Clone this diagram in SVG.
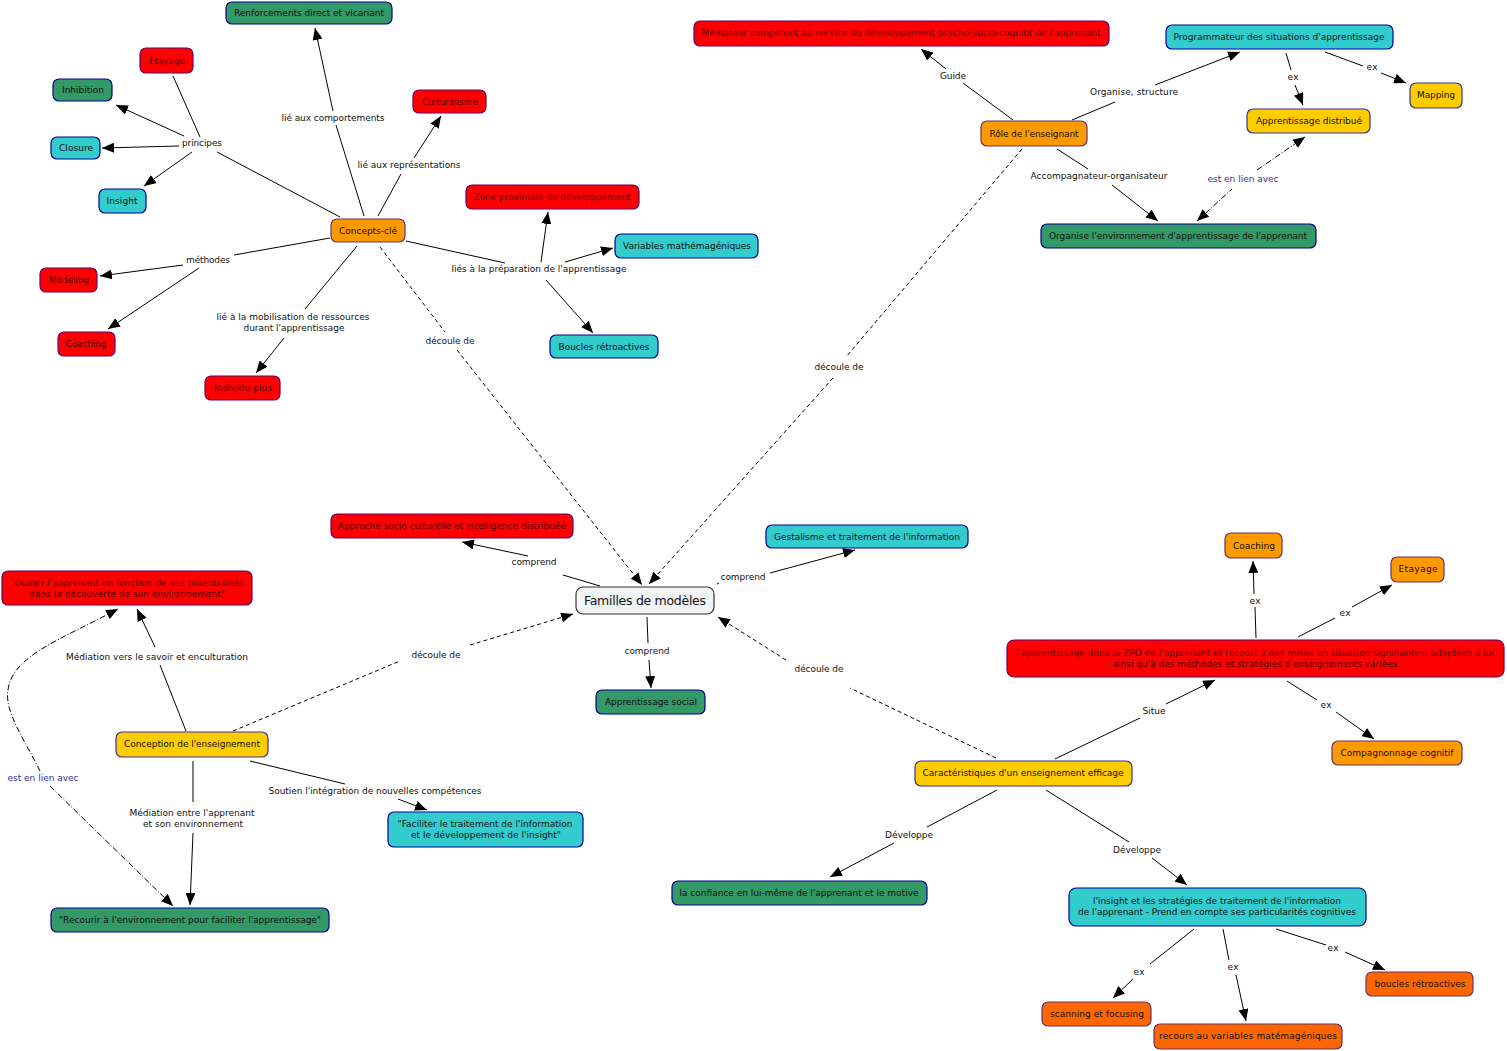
<svg xmlns="http://www.w3.org/2000/svg" width="1507" height="1051" viewBox="0 0 1507 1051">
<style>
.n{stroke-width:1.2}
.red{fill:#FF0000;stroke:#660066}
.green{fill:#339966;stroke:#000099}
.cyan{fill:#33CCCC;stroke:#000099}
.orange{fill:#FF9900;stroke:#663366}
.yellow{fill:#FFCC00;stroke:#333399}
.dorange{fill:#FF6600;stroke:#663366}
.ctr{fill:#F0F4F7;stroke:#333333}
text{font-family:"DejaVu Sans",Verdana,"Liberation Sans",sans-serif;font-size:9px;text-anchor:middle;fill:#111}
.tr{fill:#550000}
.tb{fill:#333399}
.big{font-size:12.5px}
.c{stroke:#000;stroke-width:1;fill:none}
.d{stroke-dasharray:4,3}
.dd{stroke-dasharray:6,2,1,2}
</style>
<defs>
<marker id="a" viewBox="0 0 12 10" refX="12" refY="5" markerWidth="12" markerHeight="10" markerUnits="userSpaceOnUse" orient="auto-start-reverse"><path d="M0,0L12,5L0,10z" fill="#000"/></marker>
</defs>
<rect width="1507" height="1051" fill="#fff"/>
<g id="connectors">
<path class="c" d="M340,217L217,152"/>
<path class="c" d="M173,76L200,137"/>
<path class="c" d="M184,136L116,105" marker-end="url(#a)"/>
<path class="c" d="M179,146L102,148" marker-end="url(#a)"/>
<path class="c" d="M192,152L144,186" marker-end="url(#a)"/>
<path class="c" d="M364,216L336,125"/>
<path class="c" d="M333,111L315,28" marker-end="url(#a)"/>
<path class="c" d="M378,216L401,174"/>
<path class="c" d="M414,158L441,116" marker-end="url(#a)"/>
<path class="c" d="M330,238L234,255"/>
<path class="c" d="M183,265L100,276" marker-end="url(#a)"/>
<path class="c" d="M199,268L108,329" marker-end="url(#a)"/>
<path class="c" d="M357,246L305,309"/>
<path class="c" d="M284,338L256,373" marker-end="url(#a)"/>
<path class="c" d="M406,241L505,263"/>
<path class="c" d="M541,262L548,212" marker-end="url(#a)"/>
<path class="c" d="M565,262L613,248" marker-end="url(#a)"/>
<path class="c" d="M546,280L593,333" marker-end="url(#a)"/>
<path class="c d" d="M380,247L445,332"/>
<path class="c d" d="M457,350L642,585" marker-end="url(#a)"/>
<path class="c" d="M1013,120L963,83"/>
<path class="c" d="M946,69L921,49" marker-end="url(#a)"/>
<path class="c" d="M1072,120L1115,102"/>
<path class="c" d="M1155,85L1240,52" marker-end="url(#a)"/>
<path class="c" d="M1057,149L1088,169"/>
<path class="c" d="M1112,185L1158,221" marker-end="url(#a)"/>
<path class="c d" d="M1022,149L846,357"/>
<path class="c d" d="M833,378L649,584" marker-end="url(#a)"/>
<path class="c" d="M1286,53L1291,70"/>
<path class="c" d="M1295,85L1303,105" marker-end="url(#a)"/>
<path class="c" d="M1325,52L1363,66"/>
<path class="c" d="M1381,73L1406,83" marker-end="url(#a)"/>
<path class="c dd" d="M1197,221L1232,189" marker-start="url(#a)"/>
<path class="c dd" d="M1257,170L1305,137" marker-end="url(#a)"/>
<path class="c" d="M600,586L563,575"/>
<path class="c" d="M528,556L462,542" marker-end="url(#a)"/>
<path class="c" d="M717,584L719,583"/>
<path class="c" d="M770,573L855,550" marker-end="url(#a)"/>
<path class="c" d="M647,617L648,643"/>
<path class="c" d="M649,660L651,688" marker-end="url(#a)"/>
<path class="c d" d="M233,731L400,661"/>
<path class="c d" d="M470,645L573,614" marker-end="url(#a)"/>
<path class="c d" d="M996,758L850,688"/>
<path class="c d" d="M786,660L718,617" marker-end="url(#a)"/>
<path class="c" d="M186,731L160,665"/>
<path class="c" d="M155,647L137,609" marker-end="url(#a)"/>
<path class="c dd" d="M40,771C26,742 4,712 8,690C12,656 60,640 118,609" marker-end="url(#a)"/>
<path class="c dd" d="M50,786L173,906" marker-end="url(#a)"/>
<path class="c" d="M193,761L193,802"/>
<path class="c" d="M193,833L190,905" marker-end="url(#a)"/>
<path class="c" d="M250,761L345,784"/>
<path class="c" d="M398,799L427,810" marker-end="url(#a)"/>
<path class="c" d="M1055,759L1140,718"/>
<path class="c" d="M1166,704L1215,680" marker-end="url(#a)"/>
<path class="c" d="M1256,638L1255,607"/>
<path class="c" d="M1254,594L1253,561" marker-end="url(#a)"/>
<path class="c" d="M1298,637L1335,618"/>
<path class="c" d="M1352,607L1392,585" marker-end="url(#a)"/>
<path class="c" d="M1287,681L1317,700"/>
<path class="c" d="M1336,712L1374,739" marker-end="url(#a)"/>
<path class="c" d="M997,790L927,827"/>
<path class="c" d="M894,843L830,877" marker-end="url(#a)"/>
<path class="c" d="M1046,790L1129,842"/>
<path class="c" d="M1152,858L1187,885" marker-end="url(#a)"/>
<path class="c" d="M1194,929L1150,964"/>
<path class="c" d="M1133,979L1113,998" marker-end="url(#a)"/>
<path class="c" d="M1223,929L1229,960"/>
<path class="c" d="M1236,975L1246,1021" marker-end="url(#a)"/>
<path class="c" d="M1276,929L1326,945"/>
<path class="c" d="M1345,952L1385,970" marker-end="url(#a)"/>
</g>
<g id="labels">
<text x="202" y="146" textLength="40">principes</text>
<text x="333" y="121" textLength="103">lié aux comportements</text>
<text x="409" y="168" textLength="103">lié aux représentations</text>
<text x="208" y="263" textLength="44">méthodes</text>
<text x="293" y="320" textLength="153">lié à la mobilisation de ressources</text>
<text x="294" y="331" textLength="101">durant l'apprentissage</text>
<text x="539" y="272" textLength="175">liés à la préparation de l'apprentissage</text>
<text x="450" y="344" textLength="49">découle de</text>
<text x="953" y="79" textLength="26">Guide</text>
<text x="1134" y="95" textLength="88">Organise, structure</text>
<text x="1293" y="80" textLength="11">ex</text>
<text x="1372" y="70" textLength="11">ex</text>
<text x="1099" y="179" textLength="137">Accompagnateur-organisateur</text>
<text class="tb" x="1243" y="182" textLength="71">est en lien avec</text>
<text x="839" y="370" textLength="49">découle de</text>
<text x="534" y="565" textLength="45">comprend</text>
<text x="743" y="580" textLength="45">comprend</text>
<text x="647" y="654" textLength="45">comprend</text>
<text x="436" y="658" textLength="49">découle de</text>
<text x="819" y="672" textLength="49">découle de</text>
<text x="157" y="660" textLength="182">Médiation vers le savoir et enculturation</text>
<text class="tb" x="43" y="781" textLength="71">est en lien avec</text>
<text x="375" y="794" textLength="213">Soutien l'intégration de nouvelles compétences</text>
<text x="192" y="816" textLength="125">Médiation entre l'apprenant</text>
<text x="193" y="827" textLength="100">et son environnement</text>
<text x="1255" y="604" textLength="11">ex</text>
<text x="1345" y="616" textLength="11">ex</text>
<text x="1154" y="714" textLength="23">Situe</text>
<text x="1326" y="708" textLength="11">ex</text>
<text x="909" y="838" textLength="48">Développe</text>
<text x="1137" y="853" textLength="48">Développe</text>
<text x="1139" y="975" textLength="11">ex</text>
<text x="1233" y="970" textLength="11">ex</text>
<text x="1333" y="951" textLength="11">ex</text>
</g>
<g id="n-renforcements"><rect class="n green" x="226" y="2" width="166" height="22" rx="6"/><text x="309" y="16" textLength="150">Renforcements direct et vicariant</text></g>
<g id="n-etayage1"><rect class="n red" x="140" y="48" width="53" height="25" rx="6"/><text class="tr" x="167" y="64" textLength="36">Etayage</text></g>
<g id="n-inhibition"><rect class="n green" x="53" y="79" width="59" height="22" rx="6"/><text x="83" y="93" textLength="42">Inhibition</text></g>
<g id="n-closure"><rect class="n cyan" x="51" y="137" width="49" height="22" rx="6"/><text x="76" y="151" textLength="34">Closure</text></g>
<g id="n-insight"><rect class="n cyan" x="99" y="189" width="47" height="24" rx="6"/><text x="122" y="204" textLength="31">Insight</text></g>
<g id="n-culturalisme"><rect class="n red" x="413" y="90" width="73" height="23" rx="6"/><text class="tr" x="450" y="105" textLength="56">Culturalisme</text></g>
<g id="n-concepts"><rect class="n orange" x="331" y="219" width="74" height="23" rx="6"/><text x="368" y="234" textLength="58">Concepts-clé</text></g>
<g id="n-zone"><rect class="n red" x="466" y="185" width="173" height="24" rx="6"/><text class="tr" x="552" y="200" textLength="157">Zone proximale de développement</text></g>
<g id="n-variables"><rect class="n cyan" x="615" y="234" width="143" height="24" rx="6"/><text x="687" y="249" textLength="128">Variables mathémagéniques</text></g>
<g id="n-boucles1"><rect class="n cyan" x="550" y="335" width="108" height="23" rx="6"/><text x="604" y="350" textLength="91">Boucles rétroactives</text></g>
<g id="n-modeling"><rect class="n red" x="40" y="268" width="57" height="24" rx="6"/><text class="tr" x="69" y="283" textLength="40">Modeling</text></g>
<g id="n-coaching1"><rect class="n red" x="58" y="332" width="57" height="24" rx="6"/><text class="tr" x="86" y="347" textLength="41">Coaching</text></g>
<g id="n-individu"><rect class="n red" x="205" y="376" width="75" height="24" rx="6"/><text class="tr" x="243" y="391" textLength="58">Individu plus</text></g>
<g id="n-mediateur"><rect class="n red" x="694" y="21" width="415" height="25" rx="6"/><text class="tr" x="901" y="36" textLength="399">Médiateur compétent au service du développement psycho-socio-cognitif de l'apprenant</text></g>
<g id="n-programmateur"><rect class="n cyan" x="1166" y="25" width="227" height="24" rx="6"/><text x="1279" y="40" textLength="211">Programmateur des situations d'apprentissage</text></g>
<g id="n-mapping"><rect class="n yellow" x="1410" y="83" width="52" height="25" rx="6"/><text x="1436" y="98" textLength="38">Mapping</text></g>
<g id="n-distribue"><rect class="n yellow" x="1247" y="109" width="123" height="24" rx="6"/><text x="1309" y="124" textLength="106">Apprentissage distribué</text></g>
<g id="n-role"><rect class="n orange" x="981" y="121" width="106" height="25" rx="6"/><text x="1034" y="137" textLength="89">Rôle de l'enseignant</text></g>
<g id="n-organise"><rect class="n green" x="1041" y="224" width="275" height="24" rx="6"/><text x="1178" y="239" textLength="258">Organise l'environnement d'apprentissage de l'apprenant</text></g>
<g id="n-familles"><rect class="n ctr" x="576" y="587" width="138" height="27" rx="7"/><text class="big" x="645" y="605" textLength="122">Familles de modèles</text></g>
<g id="n-approche"><rect class="n red" x="331" y="514" width="242" height="24" rx="6"/><text class="tr" x="452" y="529" textLength="228">Approche socio culturelle et intelligence distribuée</text></g>
<g id="n-gestalisme"><rect class="n cyan" x="766" y="525" width="202" height="23" rx="6"/><text x="867" y="540" textLength="186">Gestalisme et traitement de l'information</text></g>
<g id="n-social"><rect class="n green" x="596" y="690" width="109" height="24" rx="6"/><text x="651" y="705" textLength="92">Apprentissage social</text></g>
<g id="n-guider"><rect class="n red" x="2" y="571" width="250" height="34" rx="6"/><text class="tr" x="127" y="586"><tspan x="127" textLength="234">"Guider l'apprenant en fonction de ses potentialités</tspan><tspan x="127" dy="11" textLength="196">dans la découverte de son environnement"</tspan></text></g>
<g id="n-conception"><rect class="n yellow" x="116" y="732" width="152" height="25" rx="6"/><text x="192" y="747" textLength="136">Conception de l'enseignement</text></g>
<g id="n-faciliter"><rect class="n cyan" x="388" y="812" width="195" height="35" rx="6"/><text x="485" y="827"><tspan x="485" textLength="175">"Faciliter le traitement de l'information</tspan><tspan x="486" dy="11" textLength="150">et le développement de l'insight"</tspan></text></g>
<g id="n-recourir"><rect class="n green" x="51" y="908" width="278" height="24" rx="6"/><text x="190" y="923" textLength="262">"Recourir à l'environnement pour faciliter l'apprentissage"</text></g>
<g id="n-zpd"><rect class="n red" x="1007" y="640" width="497" height="37" rx="7"/><text class="tr" x="1255" y="656"><tspan x="1255" textLength="478">l'apprentissage dans la ZPD de l'apprenant et recourt à des mises en situation signifiantes, adaptées à lui</tspan><tspan x="1255" dy="11" textLength="285">ainsi qu'à des méthodes et stratégies d'enseignements variées</tspan></text></g>
<g id="n-coaching2"><rect class="n orange" x="1225" y="533" width="57" height="25" rx="6"/><text x="1254" y="549" textLength="42">Coaching</text></g>
<g id="n-etayage2"><rect class="n orange" x="1391" y="557" width="53" height="25" rx="6"/><text x="1418" y="572" textLength="39">Etayage</text></g>
<g id="n-compagnonnage"><rect class="n orange" x="1332" y="741" width="130" height="24" rx="6"/><text x="1397" y="756" textLength="113">Compagnonnage cognitif</text></g>
<g id="n-caracteristiques"><rect class="n yellow" x="915" y="761" width="217" height="25" rx="6"/><text x="1023" y="776" textLength="201">Caractéristiques d'un enseignement efficage</text></g>
<g id="n-confiance"><rect class="n green" x="672" y="881" width="255" height="24" rx="6"/><text x="799" y="896" textLength="239">la confiance en lui-même de l'apprenant et le motive</text></g>
<g id="n-insight2"><rect class="n cyan" x="1069" y="888" width="297" height="38" rx="7"/><text x="1217" y="904"><tspan x="1217" textLength="248">l'insight et les stratégies de traitement de l'information</tspan><tspan x="1217" dy="11" textLength="278">de l'apprenant - Prend en compte ses particularités cognitives</tspan></text></g>
<g id="n-scanning"><rect class="n dorange" x="1042" y="1002" width="109" height="24" rx="6"/><text x="1097" y="1017" textLength="94">scanning et focusing</text></g>
<g id="n-recours"><rect class="n dorange" x="1154" y="1024" width="188" height="25" rx="6"/><text x="1248" y="1039" textLength="178">recours au variables matémagéniques</text></g>
<g id="n-boucles2"><rect class="n dorange" x="1366" y="972" width="107" height="24" rx="6"/><text x="1420" y="987" textLength="91">boucles rétroactives</text></g>
</svg>
